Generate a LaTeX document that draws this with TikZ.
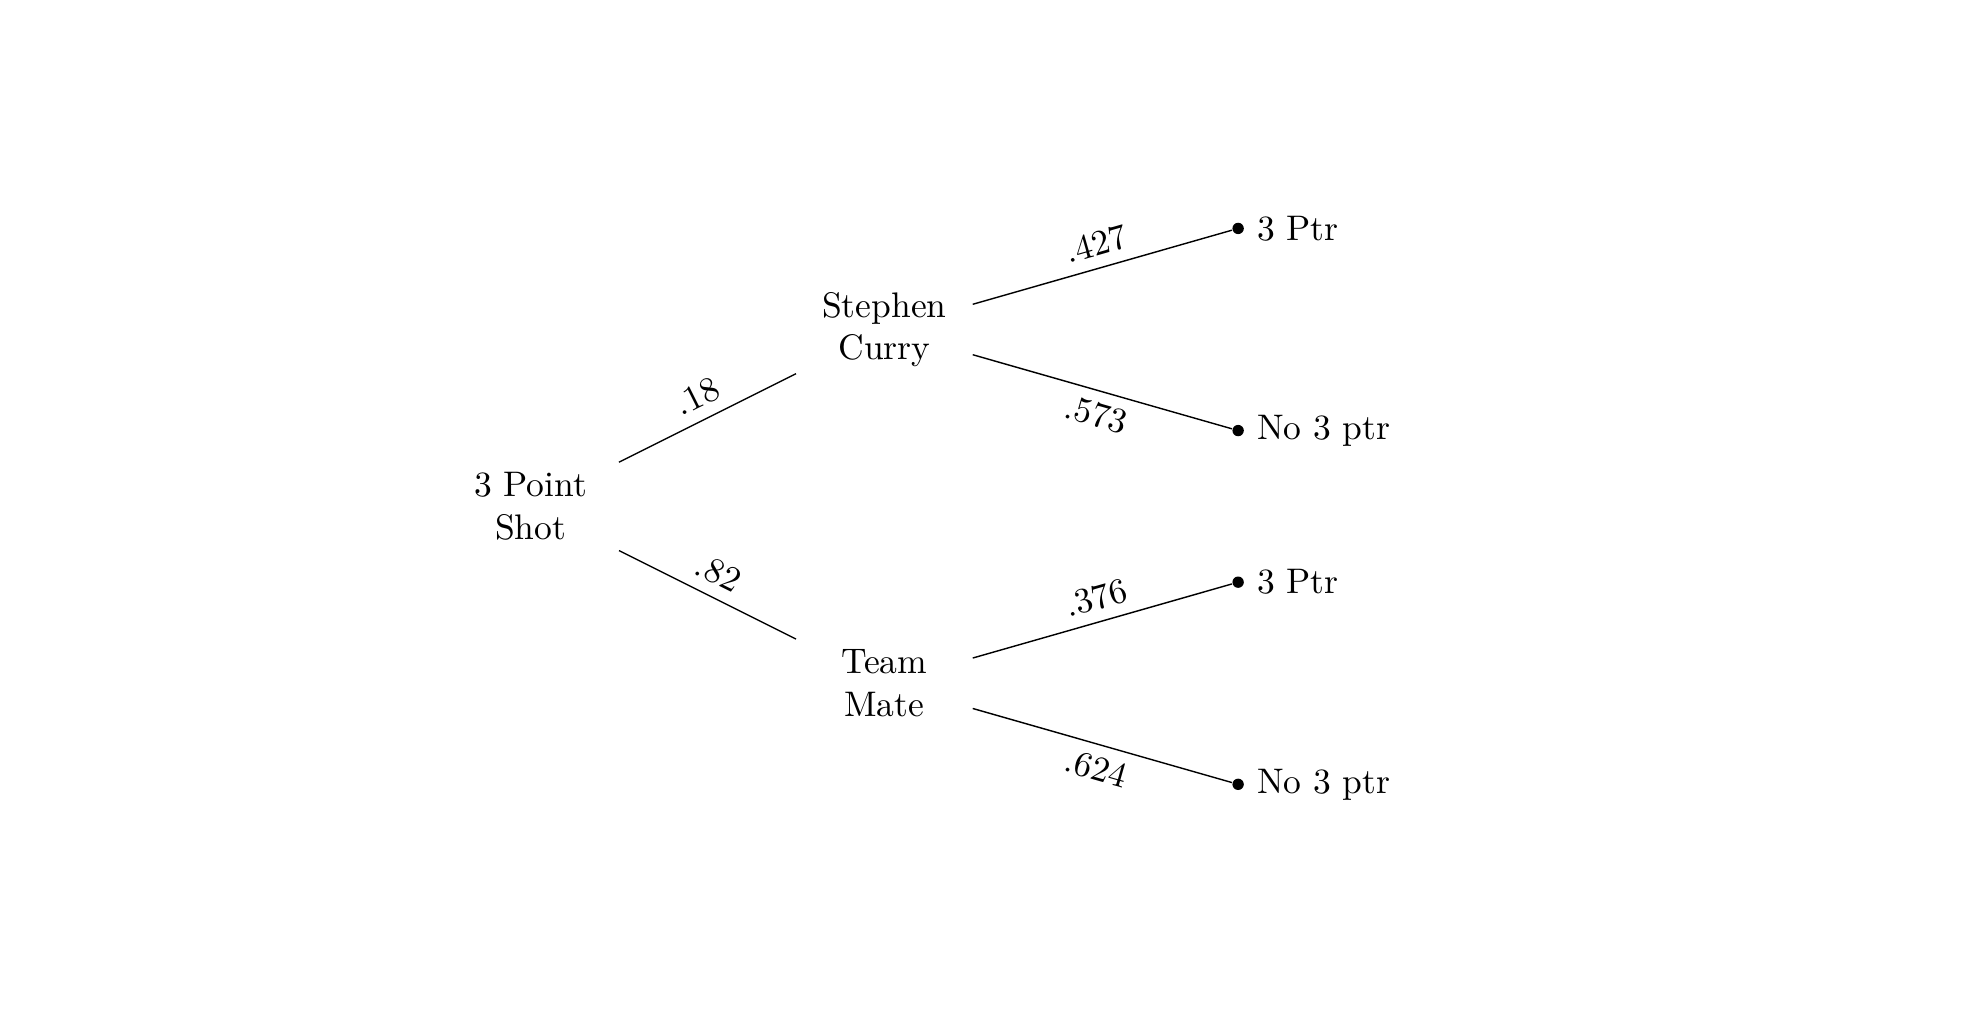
\documentclass[tikz,border=0pt]{standalone}
\begin{document}
\begin{tikzpicture}[
  inner/.style={align=center, text width=1.5cm},
  leaf/.style={circle, fill=black, inner sep=0pt, minimum size=3.2pt},
  edgelab/.style={midway, sloped}
]
\useasboundingbox (-5.25,-5.2) rectangle (14.34,5.01);
\node[inner] (root) at (0,0) {3 Point\\Shot};
\node[inner] (sc) at (3.5,1.75) {Stephen\\Curry};
\node[inner] (tm) at (3.5,-1.75) {Team\\Mate};
\node[leaf, label=right:{3 Ptr}] (l1) at (7,2.75) {};
\node[leaf, label=right:{No 3 ptr}] (l2) at (7,0.75) {};
\node[leaf, label=right:{3 Ptr}] (l3) at (7,-0.75) {};
\node[leaf, label=right:{No 3 ptr}] (l4) at (7,-2.75) {};
\draw (root) -- node[edgelab, above] {$.18$} (sc);
\draw (root) -- node[edgelab, above] {$.82$} (tm);
\draw (sc) -- node[edgelab, above] {$.427$} (l1);
\draw (sc) -- node[edgelab, below] {$.573$} (l2);
\draw (tm) -- node[edgelab, above] {$.376$} (l3);
\draw (tm) -- node[edgelab, below] {$.624$} (l4);
\end{tikzpicture}
\end{document}
